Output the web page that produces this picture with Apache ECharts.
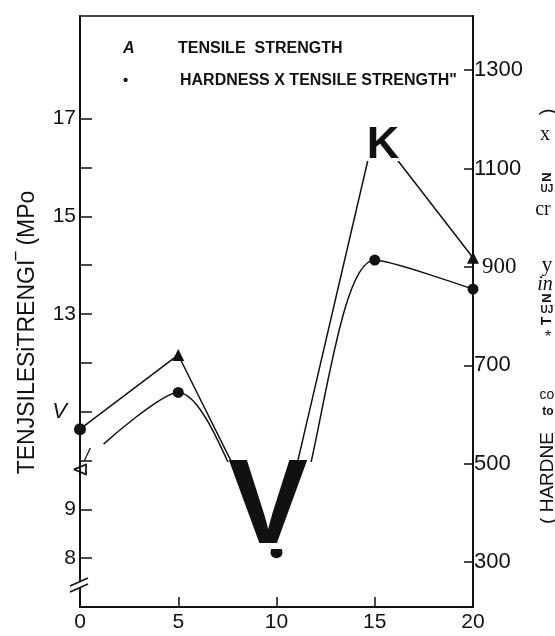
<!DOCTYPE html>
<html>
<head>
<meta charset="utf-8">
<script src="https://cdn.jsdelivr.net/npm/echarts@6/dist/echarts.min.js"></script>
<style>
html, body { margin: 0; padding: 0; background: #fff; }
#main { width: 555px; height: 636px; }
</style>
</head>
<body>
<div id="main"></div>
<script>
// upper curve (triangles, left axis) and lower curve (dots, right axis)
var xTensile = [0, 5, 10, 15, 20];
var tensile = [10.64, 12.16, 8.12, 16.75, 14.15];
var tensileMarks = ['circle', 'triangle', 'circle', 'none', 'triangle'];

var xProduct = [1.2, 5, 10, 15, 20];
var product = [540, 645, 325, 914, 855];
var productMarks = ['none', 'circle', 'circle', 'circle', 'circle'];

var xTicks = [5, 10, 15, 20];
var leftTicks = [8, 9, 10, 11, 12, 13, 14, 15, 16, 17];
var leftLabels = [8, 9, 11, 13, 15, 17];
var rightTicks = [300, 500, 700, 900, 1100, 1300];

var nameT = 'TENSILE  STRENGTH';
var nameP = 'HARDNESS X TENSILE STRENGTH"';

var ink = '#111';
var sans = 'Liberation Sans';
var serif = 'Liberation Serif';

function pts(xs, ys, marks) {
  return ys.map(function (v, i) {
    return { value: [xs[i], v], symbol: marks[i] };
  });
}

// scanned leftovers around the plot
function txt(x, y, s, st, rot) {
  return {
    type: 'text', x: x, y: y, rotation: rot || 0, z: 100,
    style: Object.assign({
      text: s, fill: ink, font: '20px ' + sans, align: 'center', verticalAlign: 'middle'
    }, st || {})
  };
}
var r90 = Math.PI / 2;
var extras = [
  // big V / K covering the curves
  { type: 'rect', z: 99, shape: { x: 224, y: 462, width: 90, height: 87 }, style: { fill: '#fff' } },
  txt(268, 510, 'V', { font: 'bold 120px ' + sans }),
  { type: 'rect', z: 99, shape: { x: 364, y: 118, width: 38, height: 43 }, style: { fill: '#fff' } },
  txt(383, 146, 'K', { font: 'bold 45px ' + sans }),
  // glyph on the left axis at 10
  txt(80, 471, '⊲', { font: 'italic 21px DejaVu Sans' }),
  txt(87, 456, '/', { font: 'italic 18px ' + sans }),
  // axis break
  { type: 'rect', z: 99, shape: { x: 77, y: 581, width: 6, height: 6 }, style: { fill: '#fff' } },
  { type: 'line', z: 100, shape: { x1: 70, y1: 592, x2: 88, y2: 584 }, style: { stroke: ink, lineWidth: 1.5 } },
  { type: 'line', z: 100, shape: { x1: 70, y1: 586, x2: 88, y2: 578 }, style: { stroke: ink, lineWidth: 1.5 } },
  // right axis title, as scanned
  txt(548, 112, ')', { font: '20px ' + sans }, r90),
  txt(545, 135, 'x', { font: '20px ' + serif }),
  txt(547, 177, 'N', { font: 'bold 13px ' + sans }, r90),
  txt(547, 189, 'UJ', { font: 'bold 10px ' + sans }),
  txt(543, 210, 'cr', { font: '20px ' + serif }),
  txt(547, 265, 'y', { font: '22px ' + serif }),
  txt(545, 285, 'in', { font: 'italic 20px ' + serif }),
  txt(547, 298, 'N', { font: 'bold 13px ' + sans }, r90),
  txt(547, 310, 'UJ', { font: 'bold 10px ' + sans }),
  txt(547, 321, 'T', { font: 'bold 14px ' + sans }, r90),
  txt(548, 338, '*', { font: '16px ' + sans }),
  txt(547, 395, 'co', { font: '14px ' + sans }),
  txt(548, 412, 'to', { font: 'bold 12px ' + sans }),
  txt(548, 478, '( HARDNE', { font: '19px ' + sans }, r90)
];

var chart = echarts.init(document.getElementById('main'));
var option = {
  animation: false,
  textStyle: { fontFamily: sans, color: ink },
  grid: { left: 80, right: 82, top: 16, bottom: 29, show: true, borderColor: ink, borderWidth: 1.5 },
  legend: {
    orient: 'vertical', left: 113, top: 36, itemGap: 16,
    icon: 'none', itemWidth: 0, itemHeight: 0, selectedMode: false,
    data: [nameT, nameP],
    formatter: function (name) {
      return name === nameT ? '{a|A}{t|' + name + '}' : '{b|•}{t|' + name + '}';
    },
    textStyle: {
      rich: {
        a: { width: 55, fontStyle: 'italic', fontWeight: 'bold', fontSize: 16, color: ink },
        b: { width: 57, fontWeight: 'bold', fontSize: 15, color: ink },
        t: { fontWeight: 'bold', fontSize: 16, color: ink }
      }
    }
  },
  xAxis: {
    type: 'value', min: 0, max: 20, interval: 5,
    axisLine: { lineStyle: { color: ink, width: 2 } },
    axisTick: { inside: true, length: 10, customValues: xTicks, lineStyle: { color: ink, width: 1.5 } },
    axisLabel: { fontSize: 21, color: ink, margin: 5 },
    splitLine: { show: false }
  },
  yAxis: [
    {
      type: 'value', min: 7, max: 19.1, position: 'left',
      axisLine: { show: true, lineStyle: { color: ink, width: 2 } },
      axisTick: { show: true, inside: true, length: 12, customValues: leftTicks, lineStyle: { color: ink, width: 1.5 } },
      axisLabel: {
        customValues: leftLabels, fontSize: 21, color: ink, margin: 4,
        formatter: function (v) { return v === 11 ? '{v|V}' : String(v); },
        rich: { v: { fontStyle: 'italic', fontSize: 22, color: ink, padding: [0, 9, 0, 0] } }
      },
      splitLine: { show: false },
      name: 'TENJSILESiTRENGI‾ (MPo', nameLocation: 'middle', nameRotate: 90, nameGap: 41,
      nameTextStyle: { fontSize: 23, color: ink, padding: [0, 42, 0, 0] }
    },
    {
      type: 'value', min: 209, max: 1410, position: 'right',
      axisLine: { show: true, lineStyle: { color: ink, width: 2 } },
      axisTick: { show: true, inside: true, length: 9, customValues: rightTicks, lineStyle: { color: ink, width: 1.5 } },
      axisLabel: {
        customValues: rightTicks, fontSize: 22, color: ink, margin: 1,
        formatter: function (v) { return v === 900 ? '{s|900}' : String(v); },
        rich: { s: { fontFamily: serif, fontSize: 23, color: ink, padding: [0, 0, 0, 8] } }
      },
      splitLine: { show: false }
    }
  ],
  series: [
    {
      name: nameT, type: 'line', yAxisIndex: 0,
      data: pts(xTensile, tensile, tensileMarks),
      symbolSize: 12, showAllSymbol: true,
      lineStyle: { color: ink, width: 1.5 }, itemStyle: { color: ink }
    },
    {
      name: nameP, type: 'line', yAxisIndex: 1, smooth: 0.3,
      data: pts(xProduct, product, productMarks),
      symbolSize: 11, showAllSymbol: true,
      lineStyle: { color: ink, width: 1.5 }, itemStyle: { color: ink }
    }
  ],
  graphic: extras
};
chart.setOption(option);
</script>
</body>
</html>
